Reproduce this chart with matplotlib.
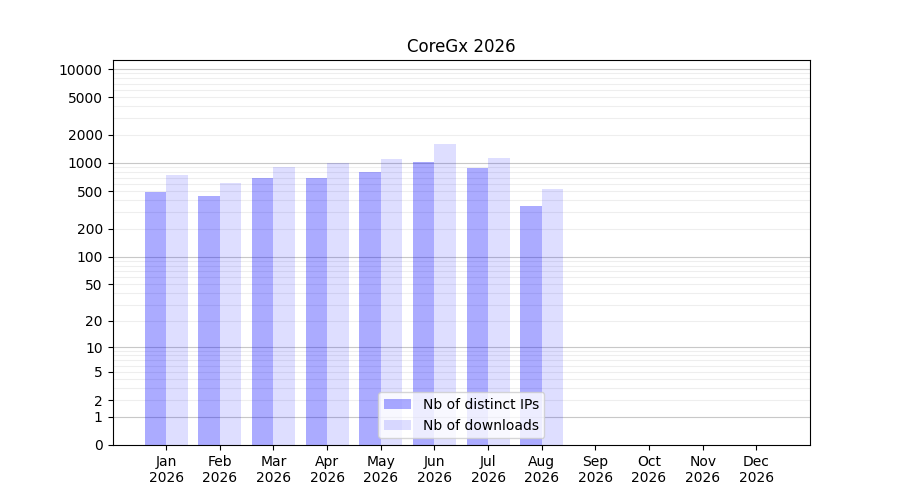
import numpy as np
import matplotlib

matplotlib.use("Agg")
import matplotlib.pyplot as plt

title = "CoreGx 2026"
months = ["Jan", "Feb", "Mar", "Apr", "May", "Jun",
          "Jul", "Aug", "Sep", "Oct", "Nov", "Dec"]
year = "2026"
distinct_ips = [491, 445, 692, 695, 802, 1025, 885, 348, 0, 0, 0, 0]
downloads = [745, 613, 907, 995, 1104, 1592, 1130, 528, 0, 0, 0, 0]
ytick_values = [0, 1, 2, 5, 10, 20, 50, 100, 200, 500, 1000, 2000, 5000, 10000]


def _fwd(y):
    return np.log10(1 + np.clip(y, 0, None))


def _inv(y):
    return 10 ** y - 1


fig, ax = plt.subplots(figsize=(9, 5), dpi=100)
ax.set_yscale("function", functions=(_fwd, _inv))

x = np.arange(len(months))
ax.bar(x - 0.2, distinct_ips, width=0.4, color="blue", alpha=0.33,
       label="Nb of distinct IPs", zorder=2)
ax.bar(x + 0.2, downloads, width=0.4, color="blue", alpha=0.13,
       label="Nb of downloads", zorder=2)

# grid: powers of ten darker, intermediate multiples lighter
for k in range(5):
    ax.axhline(10 ** k, color="#c8c8c8", linewidth=0.8, zorder=1)
    if k < 4:
        for m in range(2, 10):
            ax.axhline(m * 10 ** k, color="#eeeeee", linewidth=0.8, zorder=1)

ax.set_ylim(0, 12470)
ax.set_xlim(-1, 12)
ax.set_yticks(ytick_values)
ax.set_yticklabels([str(v) for v in ytick_values])
ax.yaxis.set_minor_locator(matplotlib.ticker.NullLocator())
ax.set_xticks(x)
ax.set_xticklabels([f"{m}\n{year}" for m in months])
ax.set_title(title)
ax.legend(loc="lower center")

fig.savefig("out.png")
